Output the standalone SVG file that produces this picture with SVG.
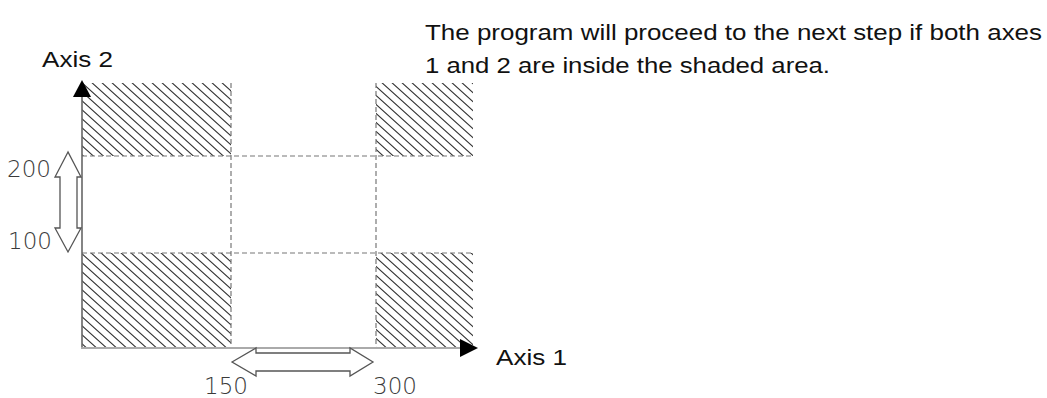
<svg xmlns="http://www.w3.org/2000/svg" width="1047" height="398" viewBox="0 0 1047 398">
<style>
.t{font-family:"Liberation Sans",Arial,sans-serif;font-size:22px;fill:#111}
.n{font-family:"DejaVu Sans","Liberation Sans",sans-serif;font-size:23px;fill:#3a3a3a;font-weight:200}
.d{stroke:#777;stroke-width:1.2;stroke-dasharray:5 3;fill:none}
.dbl{fill:#fff;stroke:#555;stroke-width:1.3}
</style>
<defs>
<pattern id="hatch" patternUnits="userSpaceOnUse" width="10" height="9">
<path d="M-1,-0.9 L11,9.9 M-1,8.1 L1,9.9 M9,-0.9 L11,0.9" stroke="#333" stroke-width="1.1"/>
</pattern>
</defs>
<g id="shaded">
<rect x="82" y="83" width="149" height="73" fill="url(#hatch)"/>
<rect x="82" y="253" width="149" height="95" fill="url(#hatch)"/>
<rect x="376" y="83" width="97" height="73" fill="url(#hatch)"/>
<rect x="376" y="253" width="97" height="95" fill="url(#hatch)"/>
</g>
<g id="grid">
<line class="d" x1="82" y1="156" x2="474" y2="156"/>
<line class="d" x1="82" y1="253" x2="474" y2="253"/>
<line class="d" x1="231" y1="83" x2="231" y2="348"/>
<line class="d" x1="376" y1="83" x2="376" y2="348"/>
</g>
<g id="axes">
<line x1="82" y1="95" x2="82" y2="349" stroke="#666" stroke-width="1.6"/>
<line x1="81" y1="348" x2="462" y2="348" stroke="#aaa" stroke-width="2"/>
<polygon points="82,80 73,97 91,97" fill="#000"/>
<polygon points="478,348 460,339 460,357" fill="#000"/>
</g>
<g id="range-arrows">
<polygon class="dbl" points="68,152 55,177 60,177 60,228 55,228 68,252 81,228 77,228 77,177 81,177"/>
<polygon class="dbl" points="232,362 256,348 256,353 350,353 350,348 373,362 350,376 350,371 256,371 256,376"/>
</g>
<g id="labels">
<text class="t" x="42" y="67" textLength="71" lengthAdjust="spacingAndGlyphs">Axis 2</text>
<text class="t" x="496" y="365" textLength="71" lengthAdjust="spacingAndGlyphs">Axis 1</text>
<text class="n" x="7" y="177">200</text>
<text class="n" x="8" y="249">100</text>
<text class="n" x="204" y="394">150</text>
<text class="n" x="373" y="394">300</text>
<text class="t" x="425" y="40" textLength="617" lengthAdjust="spacingAndGlyphs">The program will proceed to the next step if both axes</text>
<text class="t" x="425" y="73" textLength="405" lengthAdjust="spacingAndGlyphs">1 and 2 are inside the shaded area.</text>
</g>
</svg>
